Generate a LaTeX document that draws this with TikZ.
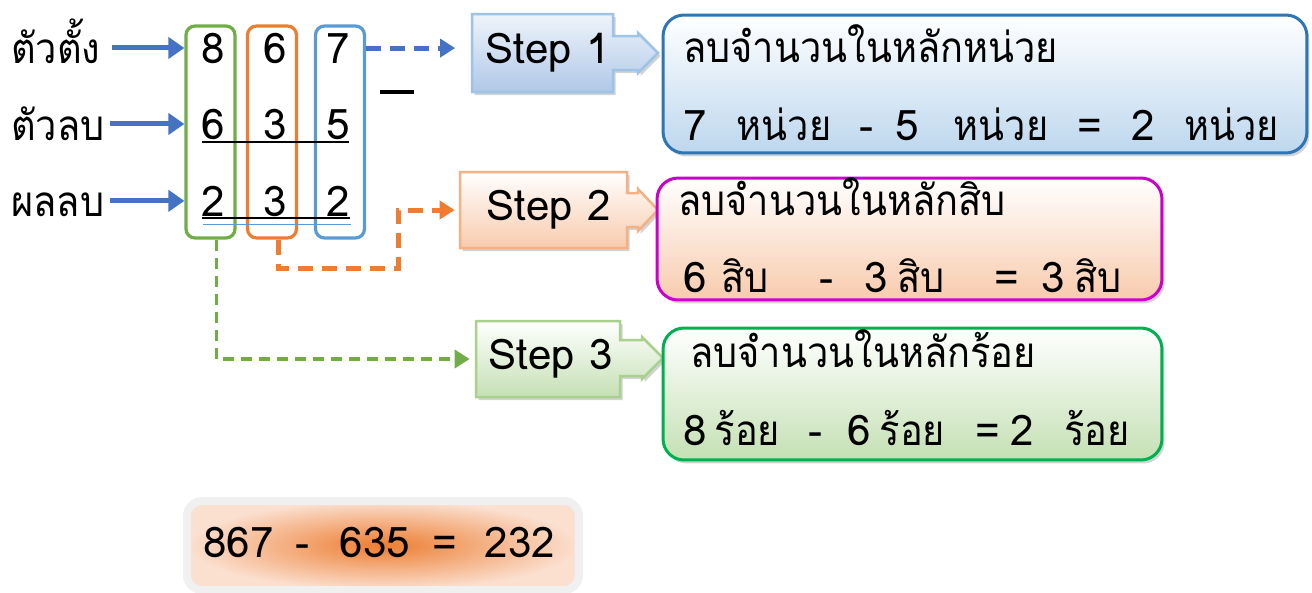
\documentclass[tikz,border=0pt]{standalone}
\usepackage{fontspec}
\setmainfont{Loma}
\newfontfamily\thaifont[Script=Thai,FakeStretch=0.9]{Loma}
\newcommand\tw[1]{{\thaifont #1}}
\usetikzlibrary{arrows.meta,shadows}

\definecolor{arrowblue}{HTML}{4472C4}
\definecolor{colgreen}{HTML}{70AD47}
\definecolor{colorange}{HTML}{ED7D31}
\definecolor{colblue}{HTML}{5B9BD5}
\definecolor{boxblue}{HTML}{2E75B6}
\definecolor{boxmag}{HTML}{CC00CC}
\definecolor{boxgreen}{HTML}{00B050}
\definecolor{fillblue}{HTML}{BDD7EE}
\definecolor{fillpeach}{HTML}{F8CBAD}
\definecolor{fillgreen}{HTML}{C5E0B4}
\definecolor{steptopblue}{HTML}{EEF4FB}
\definecolor{stepbotblue}{HTML}{B0C8E8}
\definecolor{stepblueline}{HTML}{9DC3E6}
\definecolor{steporangeline}{HTML}{F4B183}
\definecolor{stepgreenline}{HTML}{A9D18E}
\definecolor{glowpeach}{HTML}{FBE0D0}

\tikzset{
  lbl/.style={inner sep=0pt, anchor=base west},
  digit/.style={inner sep=1pt, anchor=base},
  colbox/.style={draw, line width=0.065cm, rounded corners=0.18cm,
    minimum width=0.98cm, minimum height=4.24cm},
  feed/.style={draw=arrowblue, line width=0.1cm,
    -{Triangle[length=0.32cm,width=0.42cm]}},
  dashfeed/.style={line width=0.1cm, dash pattern=on 0.3cm off 0.18cm,
    -{Triangle[length=0.3cm,width=0.36cm]}},
  stepshape/.style={line width=0.05cm, drop shadow={opacity=0.35,
    shadow xshift=0.05cm, shadow yshift=-0.06cm}},
  stepnode/.style={minimum height=1.52cm},
  infobox/.style={line width=0.06cm, rounded corners=0.42cm, top color=white,
    drop shadow={opacity=0.35, shadow xshift=0.05cm, shadow yshift=-0.07cm}},
  txt/.style={anchor=base west, inner sep=0pt}
}

\begin{document}
\begin{tikzpicture}[x=0.02cm, y=-0.02cm, font=\fontsize{24}{28}\selectfont]
\useasboundingbox (0,0) rectangle (1312,592);

% row labels
\node[lbl] (top) at (11,63) {\tw{ตัวตั้ง}};
\node[lbl] (sub) at (11,140) {\tw{ตัวลบ}};
\node[lbl] (res) at (11,216) {\tw{ผลลบ}};

% place value columns
\node[colbox, draw=colgreen] (colh) at (210.5,132) {};
\node[colbox, draw=colorange] (colt) at (272,132) {};
\node[colbox, draw=colblue] (colu) at (340,132) {};

\node[digit] (a1) at (213,63) {8};
\node[digit] (a2) at (275,63) {6};
\node[digit] (a3) at (338,63) {7};

\node[digit] (b1) at (213,139) {6};
\node[digit] (b2) at (275,139) {3};
\node[digit] (b3) at (338,139) {5};

\node[digit] (c1) at (213,216) {2};
\node[digit] (c2) at (275,216) {3};
\node[digit] (c3) at (338,216) {2};

\draw[line width=0.04cm] (202,142) -- (349,142);
\draw[line width=0.04cm] (202,218) -- (350,218);
\draw[colblue, line width=0.02cm] (203,224) -- (351,224);

\node[inner sep=0pt] (minus) at (397,92) {\rule{0.7cm}{0.07cm}};

\draw[feed, shorten <=0.22cm] (top.east |- a1) -- (a1 -| colh.west);
\draw[feed, shorten <=0.1cm] (sub.east |- b1) -- (b1 -| colh.west);
\draw[feed, shorten <=0.1cm] (res.east |- c1) -- (c1 -| colh.west);

% step arrows
\path[stepshape, draw=stepblueline, top color=steptopblue, bottom color=stepbotblue]
  (472,14) -- (613,14) -- (613,36) -- (638,36) -- (638,33) -- (658,53) -- (638,73)
  -- (638,70) -- (613,70) -- (613,92) -- (472,92) -- cycle;
\node[stepnode, minimum width=2.82cm] (s1) at (542.5,53) {\hspace{0.2cm}Step 1};

\path[stepshape, draw=steporangeline, top color=white, bottom color=fillpeach]
  (460,172) -- (627,172) -- (627,193) -- (638,193) -- (638,189) -- (658,210) -- (638,231)
  -- (638,227) -- (627,227) -- (627,248) -- (460,248) -- cycle;
\node[stepnode, minimum width=3.34cm] (s2) at (543.5,210) {\hspace{0.2cm}Step 2};

\path[stepshape, draw=stepgreenline, top color=white, bottom color=fillgreen]
  (476,321) -- (620,321) -- (620,340) -- (642,340) -- (642,337) -- (663,358) -- (642,379)
  -- (642,376) -- (620,376) -- (620,397) -- (476,397) -- cycle;
\node[stepnode, minimum width=2.88cm] (s3) at (548,359) {\hspace{0.1cm}Step 3};

% dashed connectors
\coordinate (bendt) at (398,268);
\draw[dashfeed, draw=arrowblue] (colu.east |- a3) -- ([xshift=-0.28cm]s1.west |- a3);
\draw[dashfeed, draw=colorange] ([xshift=0.12cm]colt.south) |- (bendt) |- ([xshift=-0.1cm]s2.west);
\draw[dashfeed, draw=colgreen, line width=0.07cm, dash pattern=on 0.22cm off 0.14cm]
  ([xshift=0.12cm]colh.south) |- ([xshift=-0.12cm]s3.west);

% explanation boxes
\node[infobox, draw=boxblue, bottom color=fillblue, minimum width=12.88cm, minimum height=2.76cm] (r1) at (985,84) {};
\node[txt] (r1a) at (683,62) {\tw{ลบจำนวนในหลักหน่วย}};
\node[txt] (r1b) at (683,140) {7\hspace{0.6cm}\tw{หน่วย}\hspace{0.56cm}-\hspace{0.44cm}5\hspace{0.7cm}\tw{หน่วย}\hspace{0.58cm}=\hspace{0.6cm}2\hspace{0.58cm}\tw{หน่วย}};

\node[infobox, draw=boxmag, bottom color=fillpeach, minimum width=10.1cm, minimum height=2.44cm] (r2) at (909.5,239) {};
\node[txt] (r2a) at (678,215) {\tw{ลบจำนวนในหลักสิบ}};
\node[txt] (r2b) at (683,292) {6\hspace{0.3cm}\tw{สิบ}\hspace{1cm}-\hspace{0.62cm}3\hspace{0.2cm}\tw{สิบ}\hspace{1cm}=\hspace{0.44cm}3\hspace{0.2cm}\tw{สิบ}};

\node[infobox, draw=boxgreen, bottom color=fillgreen, minimum width=9.98cm, minimum height=2.64cm] (r3) at (912.5,394) {};
\node[txt] (r3a) at (690,367) {\tw{ลบจำนวนในหลักร้อย}};
\node[txt] (r3b) at (683,445) {8\hspace{0.16cm}\tw{ร้อย}\hspace{0.56cm}-\hspace{0.5cm}6\hspace{0.18cm}\tw{ร้อย}\hspace{0.6cm}=\hspace{0.22cm}2\hspace{0.6cm}\tw{ร้อย}};

% result
\node[draw=gray!12, line width=0.16cm, rounded corners=0.3cm, shading=radial,
  inner color=colorange, outer color=glowpeach, minimum width=7.84cm, minimum height=1.78cm,
  drop shadow={opacity=0.3, shadow xshift=0.06cm, shadow yshift=-0.04cm, fill=brown!60}] (sum) at (383,545.5) {};
\node[txt] (suma) at (203,557) {867\hspace{0.44cm}-\hspace{0.6cm}635\hspace{0.44cm}=\hspace{0.56cm}232};
\end{tikzpicture}
\end{document}
